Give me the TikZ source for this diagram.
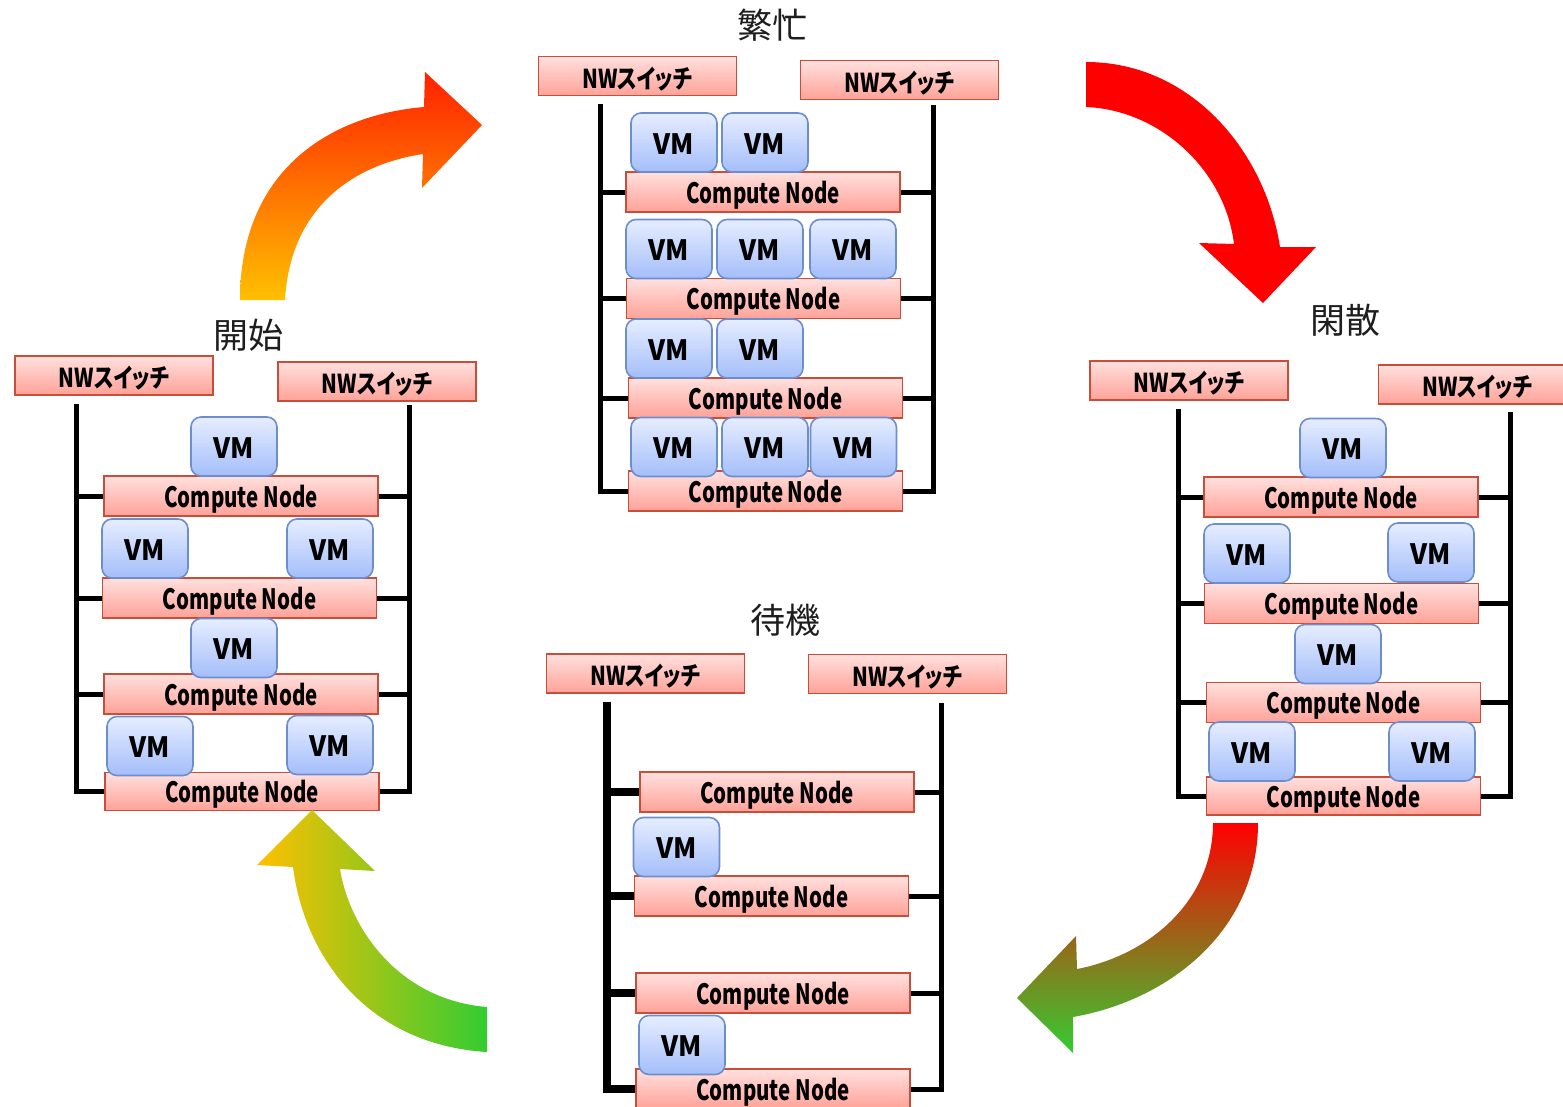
\documentclass[tikz,border=0pt]{standalone}
\usepackage{fontspec}
\setmainfont{Noto Sans CJK JP}
\newfontfamily\kanafont{Noto Sans CJK JP}[RawFeature=+palt]
\usetikzlibrary{calc}

\definecolor{boxline}{RGB}{200,78,58}
\definecolor{pinktop}{RGB}{255,224,222}
\definecolor{pinkbot}{RGB}{255,162,152}
\definecolor{vmline}{RGB}{108,142,205}
\definecolor{vmtop}{RGB}{230,237,255}
\definecolor{vmbot}{RGB}{164,190,250}
\definecolor{arrred}{RGB}{255,0,0}
\definecolor{arrorange}{RGB}{255,32,0}
\definecolor{arryellow}{RGB}{255,192,0}
\definecolor{arrgreen}{RGB}{52,204,50}
\definecolor{arrmid}{RGB}{195,150,40}
\definecolor{titlegray}{RGB}{30,30,30}

\newcommand\condtext[2]{\scalebox{#1}[1]{#2}}

\tikzset{
  x=1pt, y=-1pt,
  cnbox/.style={draw=boxline, line width=1.6pt, top color=pinktop, bottom color=pinkbot,
    minimum width=274, minimum height=40, inner sep=0pt,
    text height=24pt, text depth=2pt,
    font=\fontsize{28}{28}\selectfont\bfseries},
  swbox/.style={cnbox, minimum width=198, minimum height=39,
    text height=24pt, text depth=0pt,
    font=\kanafont\fontsize{26}{26}\selectfont\bfseries},
  vmbox/.style={draw=vmline, line width=1.6pt, top color=vmtop, bottom color=vmbot,
    rounded corners=10pt, minimum width=86, minimum height=59, inner sep=0pt,
    text height=23pt, text depth=0pt,
    font=\fontsize{28}{28}\selectfont\bfseries},
  title/.style={font=\fontsize{35}{35}\selectfont, text=titlegray, inner sep=0pt},
  bus/.style={line width=5pt, line join=miter},
  thickbus/.style={line width=8pt, line join=miter},
}

\newcommand\CN{\condtext{0.73}{Compute Node}}
\newcommand\SW{\condtext{0.8}{NWスイッチ}}
\newcommand\VM{\condtext{0.95}{VM}}

\begin{document}
\begin{tikzpicture}
\useasboundingbox (0,0) rectangle (1563,1106);

% ---------- busy state ----------
\node[title] (tBusy) at (772,25) {繁忙};
\node[swbox] (TS1) at (637.5,76) {\SW};
\node[swbox] (TS2) at (899.5,80) {\SW};
\coordinate (TL) at (600,104);
\coordinate (TR) at (933,105);
\node[cnbox] (T1) at (763,192) {\CN};
\node[cnbox] (T2) at (763.5,298.5) {\CN};
\node[cnbox] (T3) at (765.5,398) {\CN};
\node[cnbox] (T4) at (765.5,491) {\CN};
\draw[bus] (TL) |- (T4.west);
\draw[bus] (TR) |- (T4.east);
\foreach \n in {T1,T2,T3}{
  \draw[bus] (\n.west) -- (\n.west -| TL);
  \draw[bus] (\n.east) -- (\n.east -| TR);
}
\node[vmbox] (T1a) at (674,142.5) {\VM};
\node[vmbox] (T1b) at (765,142.5) {\VM};
\node[vmbox] (T2a) at (669,249) {\VM};
\node[vmbox] (T2b) at (760,249) {\VM};
\node[vmbox] (T2c) at (853,249) {\VM};
\node[vmbox] (T3a) at (669,348.5) {\VM};
\node[vmbox] (T3b) at (760,348.5) {\VM};
\node[vmbox] (T4a) at (674,447) {\VM};
\node[vmbox] (T4b) at (765,447) {\VM};
\node[vmbox] (T4c) at (853.5,447) {\VM};

% ---------- start state ----------
\node[title] (tStart) at (248,335) {開始};
\node[swbox] (LS1) at (114,375.5) {\SW};
\node[swbox] (LS2) at (377,381.5) {\SW};
\coordinate (LL) at (76,404);
\coordinate (LR) at (409,405);
\node[cnbox] (L1) at (241,496) {\CN};
\node[cnbox] (L2) at (239.5,598) {\CN};
\node[cnbox] (L3) at (241,694) {\CN};
\node[cnbox, minimum height=38] (L4) at (242,791.5) {\CN};
\draw[bus] (LL) |- (L4.west);
\draw[bus] (LR) |- (L4.east);
\foreach \n in {L1,L2,L3}{
  \draw[bus] (\n.west) -- (\n.west -| LL);
  \draw[bus] (\n.east) -- (\n.east -| LR);
}
\node[vmbox] (L1a) at (234,446.5) {\VM};
\node[vmbox] (L2a) at (145,548.5) {\VM};
\node[vmbox] (L2b) at (330,548.5) {\VM};
\node[vmbox] (L3a) at (234,648) {\VM};
\node[vmbox] (L4a) at (150,746) {\VM};
\node[vmbox] (L4b) at (330,745) {\VM};

% ---------- idle state ----------
\node[title] (tIdle) at (1345,320) {閑散};
\node[swbox] (RS1) at (1189,380.5) {\SW};
\node[swbox] (RS2) at (1477.5,384.5) {\SW};
\coordinate (RL) at (1178,409);
\coordinate (RR) at (1510,412);
\node[cnbox] (R1) at (1341,497) {\CN};
\node[cnbox] (R2) at (1341.5,603.5) {\CN};
\node[cnbox] (R3) at (1343.5,702.5) {\CN};
\node[cnbox, minimum height=38] (R4) at (1343.5,796) {\CN};
\draw[bus] (RL) |- (R4.west);
\draw[bus] (RR) |- (R4.east);
\foreach \n in {R1,R2,R3}{
  \draw[bus] (\n.west) -- (\n.west -| RL);
  \draw[bus] (\n.east) -- (\n.east -| RR);
}
\node[vmbox] (R1a) at (1343,448) {\VM};
\node[vmbox] (R2a) at (1247,553.5) {\VM};
\node[vmbox] (R2b) at (1431,552.5) {\VM};
\node[vmbox] (R3a) at (1338,654) {\VM};
\node[vmbox] (R4a) at (1252,751.5) {\VM};
\node[vmbox] (R4b) at (1432,751.5) {\VM};

% ---------- standby state ----------
\node[title] (tStandby) at (785,620) {待機};
\node[swbox] (BS1) at (645.5,673.5) {\SW};
\node[swbox] (BS2) at (907.5,674) {\SW};
\coordinate (BL) at (607,702);
\coordinate (BR) at (941,703);
\node[cnbox] (B1) at (777,792) {\CN};
\node[cnbox] (B2) at (771.5,896) {\CN};
\node[cnbox] (B3) at (773,993) {\CN};
\node[cnbox] (B4) at (773,1089) {\CN};
\draw[thickbus] (BL) |- (B4.west);
\draw[bus] (BR) |- (B4.east);
\foreach \n in {B1,B2,B3}{
  \draw[thickbus] (\n.west) -- (\n.west -| BL);
  \draw[bus] (\n.east) -- (\n.east -| BR);
}
\node[vmbox] (B1a) at (676.5,847) {\VM};
\node[vmbox] (B3a) at (682,1045) {\VM};

% ---------- cycle arrows ----------
% start -> busy
\path[top color=arrorange, bottom color=arryellow]
  (240,300) .. controls (240,170) and (330,115) .. (424,107)
  -- (425,72) -- (482,125) -- (422,188) -- (423,154)
  .. controls (350,165) and (290,210) .. (285,300) -- cycle;
% busy -> idle
\path[fill=arrred]
  (1086,62) .. controls (1190,62) and (1265,150) .. (1280,247)
  -- (1316,247) -- (1263,303) -- (1199,243) -- (1234,244)
  .. controls (1225,170) and (1160,110) .. (1086,107) -- cycle;
% idle -> standby
\path[top color=arrred, middle color=arrmid, bottom color=arrgreen]
  (1258,823) .. controls (1258,930) and (1170,1000) .. (1073,1017)
  -- (1073,1053) -- (1017,998) -- (1076,936) -- (1077,969)
  .. controls (1150,955) and (1213,900) .. (1213,823) -- cycle;
% standby -> start
\path[left color=arryellow, right color=arrgreen]
  (487,1052) .. controls (370,1045) and (305,960) .. (293,867)
  -- (257,865) -- (312,810) -- (375,871) -- (340,869)
  .. controls (350,930) and (400,1000) .. (487,1007) -- cycle;
\end{tikzpicture}
\end{document}
